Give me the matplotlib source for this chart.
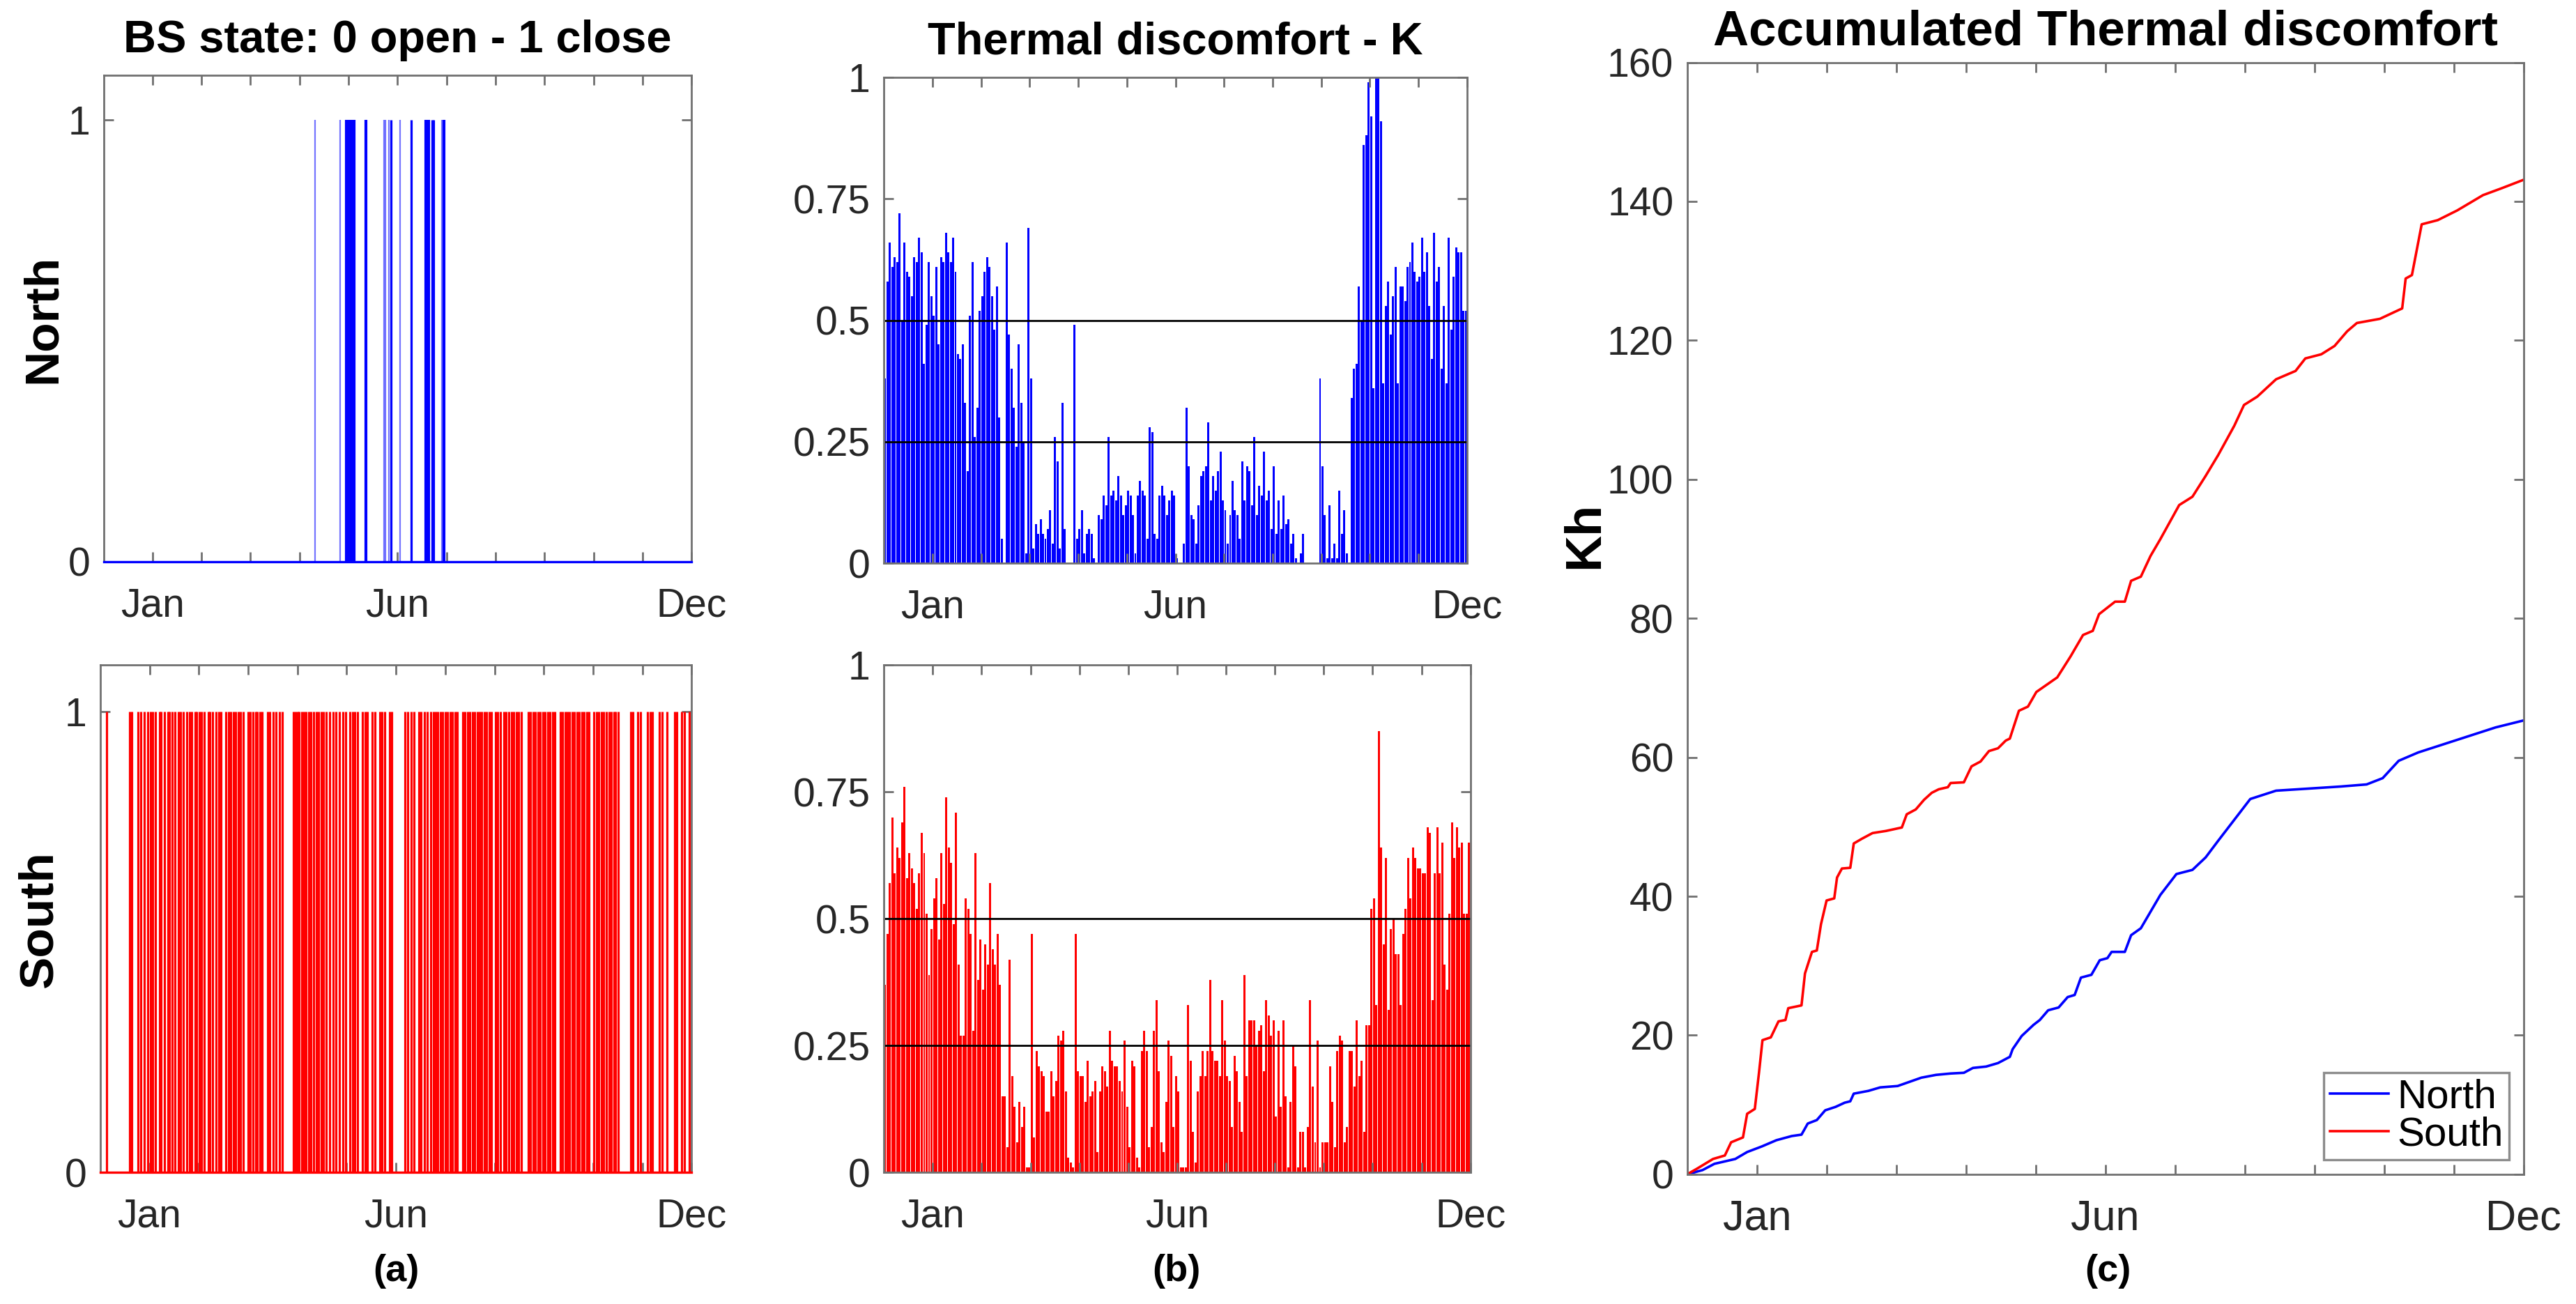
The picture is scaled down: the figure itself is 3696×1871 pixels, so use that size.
"""
Persiana (BS) y disconfort térmico - figura de tres columnas
(a) estado de la persiana, (b) disconfort horario, (c) acumulado
"""

import numpy as np
import matplotlib
matplotlib.use('Agg')
import matplotlib.pyplot as plt

plt.rcParams['font.family'] = ['Liberation Sans', 'DejaVu Sans']

# DATOS (eje x en meses: 0 = inicio, 12 = Dec)
MONTH_TICKS = list(range(1, 13))
MONTH_LABELS = ['Jan', '', '', '', '', 'Jun', '', '', '', '', '', 'Dec']

# (a) cierres de la persiana (mes decimal) y su duración en horas
north_close_month = [4.31, 4.83, 4.95, 5.00, 5.06, 5.11, 5.35, 5.72, 5.75, 5.83,
                     5.87, 6.05, 6.28, 6.58, 6.63, 6.70, 6.74, 6.90, 6.94]
north_close_hours = [1, 1, 3, 3, 3, 3, 3, 1, 1, 1, 2, 1, 2, 3, 3, 2, 2, 1, 3]

south_close_month = [
    0.13, 0.60, 0.64, 0.77, 0.82, 0.90, 0.97, 1.02, 1.07, 1.12, 1.20, 1.24, 1.30,
    1.37, 1.41, 1.46, 1.51, 1.59, 1.63, 1.69, 1.76, 1.81, 1.86, 1.93, 1.96, 2.01,
    2.06, 2.11, 2.19, 2.23, 2.28, 2.35, 2.40, 2.45, 2.55, 2.60, 2.65, 2.70, 2.75,
    2.80, 2.85, 2.90, 3.00, 3.05, 3.10, 3.15, 3.19, 3.24, 3.29, 3.39, 3.44, 3.51,
    3.57, 3.64, 3.69, 3.92, 3.96, 4.00, 4.04, 4.09, 4.13, 4.18, 4.23, 4.28, 4.33,
    4.38, 4.43, 4.48, 4.53, 4.58, 4.66, 4.73, 4.78, 4.86, 4.93, 4.98, 5.07, 5.12,
    5.17, 5.22, 5.32, 5.37, 5.42, 5.52, 5.57, 5.67, 5.72, 5.77, 5.87, 5.91, 6.18,
    6.24, 6.31, 6.36, 6.46, 6.51, 6.58, 6.64, 6.71, 6.76, 6.81, 6.85, 6.90, 6.95,
    7.00, 7.05, 7.10, 7.15, 7.20, 7.25, 7.35, 7.40, 7.45, 7.50, 7.55, 7.60, 7.65,
    7.70, 7.74, 7.79, 7.84, 7.89, 7.94, 8.02, 8.06, 8.12, 8.19, 8.24, 8.29, 8.34,
    8.39, 8.44, 8.49, 8.54, 8.68, 8.73, 8.78, 8.83, 8.88, 8.93, 8.98, 9.03, 9.08,
    9.13, 9.18, 9.23, 9.33, 9.38, 9.43, 9.48, 9.52, 9.57, 9.62, 9.67, 9.72, 9.77,
    9.82, 9.87, 9.92, 10.02, 10.07, 10.12, 10.17, 10.22, 10.27, 10.32, 10.37,
    10.42, 10.46, 10.51, 10.76, 10.81, 10.91, 10.96, 11.11, 11.16, 11.21, 11.35,
    11.40, 11.50, 11.65, 11.70, 11.80, 11.85, 11.95]

# (b) pico de disconfort (K), una muestra cada 0.05 meses
north_k = [
    0.38, 0.58, 0.66, 0.61, 0.63, 0.62, 0.72, 0.50, 0.66, 0.60,
    0.59, 0.55, 0.63, 0.62, 0.67, 0.64, 0.41, 0.49, 0.62, 0.55,
    0.51, 0.61, 0.45, 0.63, 0.62, 0.68, 0.64, 0.62, 0.67, 0.60,
    0.43, 0.42, 0.45, 0.33, 0.19, 0.51, 0.62, 0.26, 0.32, 0.52,
    0.55, 0.60, 0.63, 0.61, 0.55, 0.48, 0.57, 0.30,
    0.05, 0.00, 0.66, 0.47, 0.40, 0.32, 0.24, 0.45, 0.33, 0.25, 0.02, 0.69, 0.38,
    0.03, 0.08, 0.06, 0.09, 0.06, 0.05, 0.07, 0.11, 0.04, 0.26, 0.21, 0.03, 0.33,
    0.07, 0.00, 0.00, 0.00, 0.49,
    0.05, 0.07, 0.11, 0.02, 0.06, 0.07, 0.06, 0.01, 0.00, 0.10,
    0.09, 0.14, 0.12, 0.26, 0.14, 0.15, 0.13, 0.18, 0.14, 0.10,
    0.12, 0.15, 0.14, 0.10, 0.02, 0.14, 0.17, 0.15, 0.14, 0.05,
    0.28, 0.27, 0.06, 0.05, 0.14, 0.16, 0.14, 0.10, 0.13, 0.15,
    0.14, 0.01, 0.00, 0.00, 0.04,
    0.32, 0.20, 0.10, 0.09, 0.04, 0.12, 0.18, 0.19, 0.20, 0.29,
    0.13, 0.18, 0.15, 0.19, 0.23, 0.13, 0.11, 0.04, 0.10, 0.17,
    0.11, 0.10, 0.05, 0.21, 0.13, 0.20, 0.19, 0.12, 0.26, 0.10,
    0.16, 0.14, 0.23, 0.13, 0.15, 0.07, 0.20, 0.06, 0.13, 0.07,
    0.14, 0.08, 0.09, 0.04, 0.06, 0.01, 0.00, 0.02, 0.06, 0.00,
    0.00, 0.00, 0.00, 0.00,
    0.00, 0.38, 0.20, 0.10, 0.01, 0.12, 0.01, 0.04, 0.01, 0.15, 0.06, 0.11, 0.02, 0.00,
    0.34, 0.40, 0.41, 0.57, 0.50, 0.86, 0.88, 0.99, 0.92, 0.36,
    1.05, 1.05, 0.91, 0.37, 0.53, 0.58, 0.47, 0.55, 0.61, 0.37,
    0.57, 0.57, 0.54, 0.61, 0.62, 0.66, 0.60, 0.58, 0.59, 0.67,
    0.60, 0.64, 0.53, 0.42, 0.68, 0.58, 0.61, 0.40, 0.53, 0.37,
    0.67, 0.48, 0.59, 0.65, 0.64, 0.64, 0.52, 0.52]

south_k = [
    0.37, 0.47, 0.57, 0.70, 0.59, 0.64, 0.62, 0.69, 0.76, 0.58,
    0.63, 0.60, 0.57, 0.52, 0.59, 0.67, 0.63, 0.51, 0.39, 0.48,
    0.54, 0.58, 0.46, 0.63, 0.53, 0.74, 0.64, 0.61, 0.49, 0.71,
    0.41, 0.27, 0.27, 0.54, 0.52, 0.47, 0.28, 0.63, 0.38, 0.46,
    0.36, 0.45, 0.41, 0.57, 0.44, 0.41, 0.47, 0.37, 0.15, 0.15,
    0.05, 0.42, 0.19, 0.13, 0.06, 0.14, 0.09, 0.13, 0.01, 0.01,
    0.47, 0.07, 0.24, 0.21, 0.20, 0.19, 0.12, 0.12, 0.20, 0.15,
    0.18, 0.27, 0.26, 0.28, 0.16, 0.03, 0.02, 0.01, 0.47, 0.20,
    0.19, 0.19, 0.14, 0.22, 0.15, 0.16, 0.18, 0.04, 0.16, 0.21,
    0.20, 0.17, 0.28, 0.22, 0.21, 0.21, 0.18, 0.16, 0.26, 0.13,
    0.05, 0.22, 0.21, 0.03, 0.01, 0.24, 0.28, 0.24, 0.05, 0.09,
    0.28, 0.34, 0.20, 0.06, 0.04, 0.14, 0.26, 0.23, 0.09, 0.19,
    0.16, 0.01, 0.01, 0.01, 0.33, 0.22, 0.08, 0.02, 0.16, 0.19,
    0.24, 0.19, 0.24, 0.38, 0.24, 0.22, 0.22, 0.19, 0.34, 0.26,
    0.19, 0.18, 0.09, 0.23, 0.20, 0.14, 0.08, 0.39, 0.19, 0.30,
    0.30, 0.30, 0.25, 0.28, 0.29, 0.20, 0.34, 0.31, 0.27, 0.30,
    0.11, 0.28, 0.13, 0.30, 0.15, 0.01, 0.14, 0.25, 0.21, 0.01,
    0.08, 0.08, 0.01, 0.09, 0.34, 0.17, 0.06, 0.26, 0.01, 0.06,
    0.06, 0.06, 0.21, 0.14, 0.05, 0.24, 0.27, 0.26, 0.06, 0.09,
    0.24, 0.24, 0.17, 0.30, 0.19, 0.22, 0.08, 0.29, 0.29, 0.52,
    0.54, 0.33, 0.87, 0.64, 0.45, 0.62, 0.32, 0.48, 0.50, 0.43,
    0.43, 0.33, 0.47, 0.52, 0.62, 0.54, 0.64, 0.62, 0.60, 0.60,
    0.59, 0.59, 0.68, 0.67, 0.34, 0.59, 0.68, 0.59, 0.65, 0.41,
    0.36, 0.51, 0.69, 0.62, 0.68, 0.64, 0.65, 0.51, 0.51, 0.65]

# (c) disconfort acumulado (Kh)
north_cum_month = [
    0.00, 0.22, 0.39, 0.69, 0.86, 1.07, 1.28, 1.50, 1.64, 1.73, 1.86, 1.98, 2.13,
    2.26, 2.34, 2.39, 2.60, 2.77, 3.02, 3.19, 3.36, 3.57, 3.78, 3.97, 4.10, 4.29,
    4.46, 4.63, 4.67, 4.80, 4.97, 5.06, 5.18, 5.33, 5.46, 5.56, 5.65, 5.80, 5.92,
    6.03, 6.09, 6.28, 6.37, 6.51, 6.65, 6.79, 7.02, 7.25, 7.44, 7.62, 7.85, 8.08,
    8.45, 8.92, 9.38, 9.75, 9.98, 10.21, 10.49, 10.86, 11.23, 11.60, 12.00]
north_cum_kh = [
    0.0, 0.6, 1.5, 2.2, 3.2, 4.0, 4.9, 5.5, 5.7, 7.3, 7.8, 9.2, 9.7,
    10.3, 10.5, 11.6, 12.0, 12.5, 12.7, 13.3, 13.9, 14.3, 14.5, 14.6, 15.3, 15.5,
    16.0, 16.9, 18.0, 19.9, 21.5, 22.2, 23.6, 24.0, 25.5, 25.8, 28.3, 28.7, 30.8,
    31.1, 32.0, 32.0, 34.4, 35.4, 37.8, 40.2, 43.2, 43.8, 45.6, 48.0, 51.0, 54.0,
    55.2, 55.5, 55.8, 56.1, 57.0, 59.5, 60.7, 61.9, 63.1, 64.3, 65.3]

south_cum_month = [
    0.00, 0.14, 0.37, 0.54, 0.63, 0.80, 0.86, 0.97, 1.03, 1.08, 1.20, 1.31, 1.41,
    1.45, 1.64, 1.69, 1.79, 1.86, 1.92, 2.00, 2.11, 2.15, 2.22, 2.34, 2.39, 2.51,
    2.66, 2.85, 3.08, 3.15, 3.28, 3.40, 3.51, 3.61, 3.74, 3.78, 3.97, 4.08, 4.21,
    4.33, 4.46, 4.57, 4.63, 4.76, 4.89, 5.01, 5.31, 5.50, 5.68, 5.82, 5.91, 6.14,
    6.28, 6.37, 6.51, 6.65, 6.79, 7.06, 7.25, 7.44, 7.62, 7.85, 7.99, 8.18, 8.45,
    8.73, 8.87, 9.10, 9.29, 9.47, 9.61, 9.94, 10.26, 10.31, 10.40, 10.54, 10.77,
    11.05, 11.42, 11.69, 12.00]
south_cum_kh = [
    0.0, 0.8, 2.2, 2.7, 4.6, 5.3, 8.7, 9.4, 14.6, 19.3, 19.7, 22.0, 22.2,
    23.9, 24.3, 28.9, 32.0, 32.2, 36.0, 39.4, 39.7, 42.7, 44.0, 44.1, 47.6, 48.3,
    49.1, 49.4, 49.9, 51.8, 52.5, 53.9, 54.9, 55.4, 55.7, 56.3, 56.4, 58.7, 59.4,
    60.9, 61.3, 62.4, 62.7, 66.7, 67.3, 69.4, 71.5, 74.5, 77.6, 78.2, 80.6, 82.4,
    82.4, 85.4, 86.0, 89.0, 91.4, 96.3, 97.5, 100.5, 103.5, 107.7, 110.7, 111.9,
    114.4, 115.6, 117.4, 118.0, 119.2, 121.3, 122.5, 123.1, 124.6, 128.9, 129.4,
    136.7, 137.3, 138.7, 140.9, 141.9, 143.1]

# ESTILO
BLUE = '#0000ff'
RED = '#ff0000'
SPINE = '#707070'
TXT = '#262626'
TICK_FS = 20.5
TITLE_FS = 23.4
LABEL_FS = 25

W, H = 1568.0, 794.0   # coordenadas de referencia para colocar los ejes


def rect(left, right, top, bottom):
    return [left / W, 1 - bottom / H, (right - left) / W, (bottom - top) / H]


def estilo_ejes(ax, xfs=TICK_FS):
    ax.set_xlim(0, 12)
    ax.set_xticks(MONTH_TICKS)
    ax.set_xticklabels(MONTH_LABELS)
    ax.tick_params(direction='in', top=True, right=True, length=5, width=1.0,
                   color=SPINE, labelcolor=TXT, labelsize=TICK_FS, pad=7)
    ax.tick_params(axis='x', pad=13, labelsize=xfs)
    for sp in ax.spines.values():
        sp.set_color(SPINE)
        sp.set_linewidth(1.0)


def panel_estado(ax, meses, color, anchos=None):
    if anchos is None:
        anchos = [2] * len(meses)
    for m, h in zip(meses, anchos):
        ax.vlines(m, 0, 1, color=color, linewidth=0.45 + 0.35 * h,
                  alpha=0.55 if h == 1 else 1.0)
    ax.axhline(0, color=color, linewidth=1.2, zorder=3, clip_on=False)
    ax.set_ylim(0, 1.1)
    ax.set_yticks([0, 1])
    ax.set_yticklabels(['0', '1'])
    estilo_ejes(ax)


def panel_disconfort(ax, valores, color):
    valores = np.array(valores)
    paso = 12.0 / len(valores)
    x = (np.arange(len(valores)) + 0.5) * paso
    ax.bar(x, valores, width=paso * 0.85, color=color, linewidth=0)
    ax.axhline(0.25, color='black', linewidth=1.0)
    ax.axhline(0.5, color='black', linewidth=1.0)
    ax.set_ylim(0, 1)
    ax.set_yticks([0, 0.25, 0.5, 0.75, 1])
    ax.set_yticklabels(['0', '0.25', '0.5', '0.75', '1'])
    estilo_ejes(ax)


fig = plt.figure(figsize=(18.48, 9.355), dpi=200, facecolor='white')

ax_an = fig.add_axes(rect(63, 421, 46, 342))
ax_as = fig.add_axes(rect(61, 421, 405, 714))
ax_bn = fig.add_axes(rect(538, 893, 47, 343))
ax_bs = fig.add_axes(rect(538, 895, 405, 714))
ax_c = fig.add_axes(rect(1027, 1536, 38, 715))

# 1. ESTADO DE LA PERSIANA
panel_estado(ax_an, north_close_month, BLUE, north_close_hours)
panel_estado(ax_as, south_close_month, RED)
ax_an.set_title('BS state: 0 open - 1 close', fontsize=TITLE_FS,
                fontweight='bold', pad=12)
ax_an.set_ylabel('North', fontsize=LABEL_FS, fontweight='bold')
ax_as.set_ylabel('South', fontsize=LABEL_FS, fontweight='bold')
ax_an.yaxis.set_label_coords(-0.065, 0.5)
ax_as.yaxis.set_label_coords(-0.065, 0.5)

# 2. DISCONFORT TERMICO
panel_disconfort(ax_bn, north_k, BLUE)
panel_disconfort(ax_bs, south_k, RED)
ax_bn.set_title('Thermal discomfort - K', fontsize=TITLE_FS,
                fontweight='bold', pad=12)

# 3. ACUMULADO
ax_c.plot(north_cum_month, north_cum_kh, color=BLUE, linewidth=1.3, label='North')
ax_c.plot(south_cum_month, south_cum_kh, color=RED, linewidth=1.3, label='South')
ax_c.set_ylim(0, 160)
ax_c.set_yticks(range(0, 161, 20))
estilo_ejes(ax_c, xfs=22)
ax_c.set_title('Accumulated Thermal discomfort', fontsize=25.5,
               fontweight='bold', pad=9)
ax_c.set_ylabel('Kh', fontsize=26, fontweight='bold')
ax_c.yaxis.set_label_coords(-0.094, 0.575)
leg = ax_c.legend(loc='lower right', fontsize=21, frameon=True, fancybox=False,
                  handlelength=1.45, borderpad=0.15, labelspacing=0.0,
                  handletextpad=0.2, borderaxespad=0.35)
leg.get_frame().set_edgecolor(SPINE)
leg.get_frame().set_linewidth(1.2)

# 4. ETIQUETAS (a) (b) (c)
for etiqueta, xc in [('(a)', 241), ('(b)', 716), ('(c)', 1283)]:
    fig.text(xc / W, 1 - 774 / H, etiqueta, ha='center', va='center',
             fontsize=19.5, fontweight='bold', color='black')

fig.savefig('out.png', dpi=200, facecolor='white')
plt.close(fig)
